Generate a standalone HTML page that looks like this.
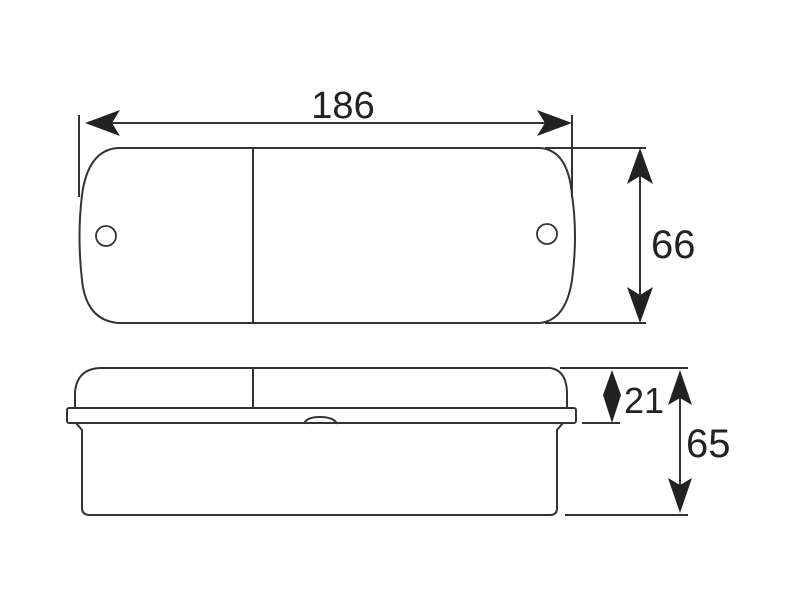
<!DOCTYPE html>
<html><head><style>html,body{margin:0;padding:0;background:#fff;width:800px;height:600px;overflow:hidden}</style></head><body>
<svg width="800" height="600" viewBox="0 0 800 600" xmlns="http://www.w3.org/2000/svg">
<g fill="none" stroke="#333" stroke-width="2">
<path d="M118,148 L540,148 Q568,150 572,195 Q578,236 572,280 Q566,320 540,323 L118,323 Q86,320 82,280 Q77,236 82,195 Q88,150 118,148 Z"/>
<line x1="253" y1="148" x2="253" y2="323"/>
<circle cx="106" cy="236" r="10" stroke-width="1.8"/>
<circle cx="547" cy="234" r="10" stroke-width="1.8"/>
<line x1="79" y1="115" x2="79" y2="197"/>
<line x1="572" y1="115" x2="572" y2="197"/>
<line x1="95" y1="123" x2="562" y2="123"/>
<line x1="545" y1="148" x2="646" y2="148"/>
<line x1="545" y1="323" x2="646" y2="323"/>
<line x1="640" y1="160" x2="640" y2="312"/>
<path d="M75,408 L75,392 Q77,369 100,368 L550,368 Q566,370 567,392 L567,408"/>
<line x1="253" y1="368" x2="253" y2="408"/>
<rect x="67" y="408" width="509" height="15" rx="2"/>
<path d="M76,423 L82,430 L82,508 Q82,515 90,515 L550,515 Q557,515 557,508 L557,430 L563,423"/>
<path d="M304,424 Q306,417 320,417 Q334,417 337,424"/>
<line x1="560" y1="368" x2="688" y2="368"/>
<line x1="582" y1="423" x2="620" y2="423"/>
<line x1="565" y1="515" x2="688" y2="515"/>
<line x1="612" y1="378" x2="612" y2="416"/>
<line x1="680" y1="380" x2="680" y2="505"/>
</g>
<g fill="#222">
<polygon points="85,123 120,110 112,123 120,136"/>
<polygon points="572,123 537,110 545,123 537,136"/>
<polygon points="640,148 627,184 640,176 653,184"/>
<polygon points="640,323 627,287 640,295 653,287"/>
<polygon points="612,370 603,395 612,423 621,395"/>
<polygon points="680,370 668,405 680,398 692,405"/>
<polygon points="680,513 668,478 680,485 692,478"/>
</g>
<g font-family="Liberation Sans, sans-serif" font-size="38" fill="#222">
<text x="343" y="118" text-anchor="middle">186</text>
<text x="651" y="258" font-size="40">66</text>
<text x="624" y="413" font-size="36">21</text>
<text x="686" y="457" font-size="40">65</text>
</g>
</svg>
</body></html>
